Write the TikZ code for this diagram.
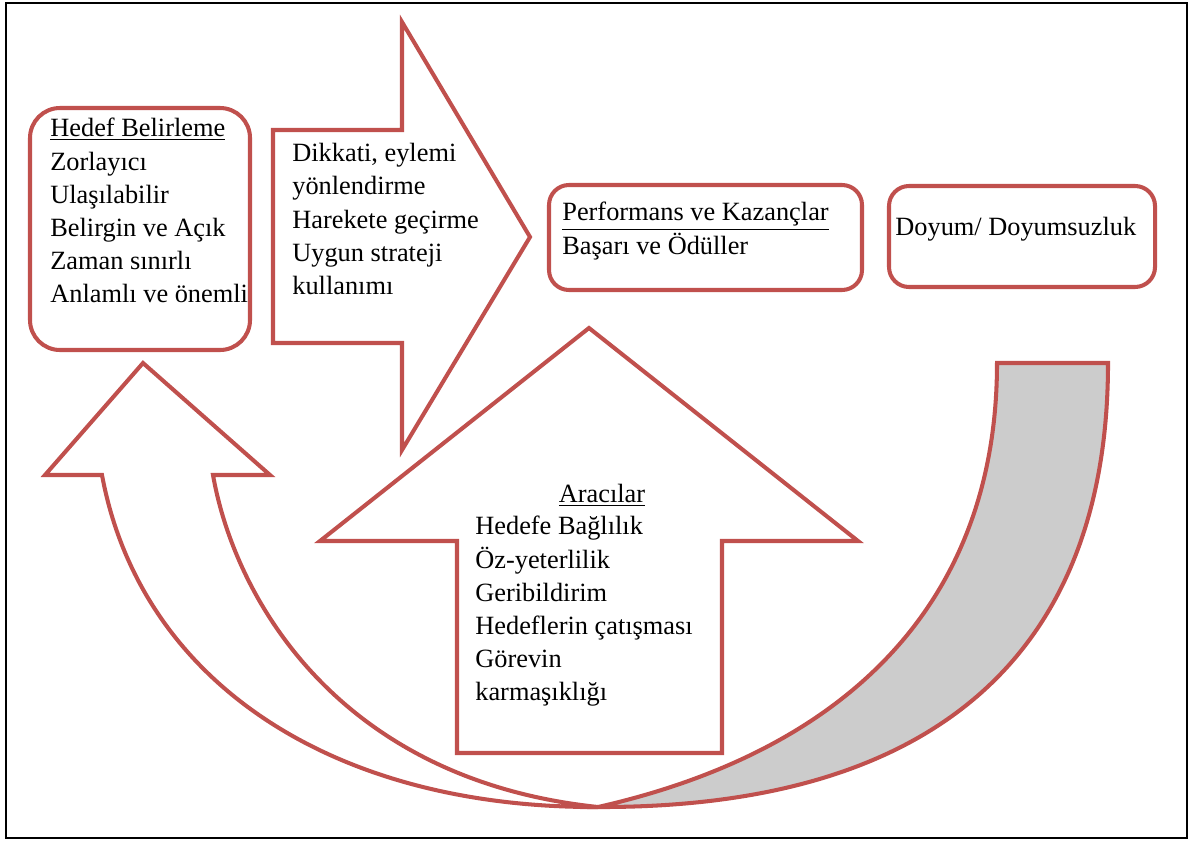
\documentclass[tikz,border=0pt]{standalone}
\usepackage{fontspec}
\setmainfont{Liberation Serif}
\usepackage{tikz}
\definecolor{accred}{HTML}{C0504D}
\tikzset{
	redpath/.style={
		draw=accred,
		line width=2.3pt,
		line join=miter},
	lbl/.style={
		font=\fontsize{15pt}{18.9pt}\selectfont,
		align=left,
		anchor=north west,
		inner sep=0pt}
}
\begin{document}
\begin{tikzpicture}[x=0.02cm, y=-0.02cm]
	\useasboundingbox (0,0) rectangle (1195,841);
	% curved arrow back to goal setting
	\draw[redpath, fill=white] (143,363) -- (270,475) -- (213,475)
		.. controls (235,600) and (340,780) .. (598,807)
		.. controls (330,808) and (140,680) .. (102,475) -- (45,475) -- cycle;
	\draw[redpath, fill=black!20] (997,363) -- (1108,363)
		.. controls (1108,640) and (950,808) .. (598,807)
		.. controls (850,750) and (997,600) .. (997,363) -- cycle;
	% block arrows
	\draw[redpath] (273,130) -- (402,130) -- (402,22) -- (530,237) -- (402,450) -- (402,343) -- (273,343) -- cycle;
	\draw[redpath] (589,328) -- (858,541) -- (722,541) -- (722,753) -- (457,753) -- (457,541) -- (320,541) -- cycle;
	% boxes
	\draw[redpath, rounded corners=0.6cm] (30,108) rectangle (250,350);
	\draw[redpath, rounded corners=0.4cm] (549,185) rectangle (862,290);
	\draw[redpath, rounded corners=0.4cm] (889,186) rectangle (1155,287);
	% texts
	\node[lbl] (hedef) at (50,118) {\underline{Hedef Belirleme}\\Zorlayıcı\\Ulaşılabilir\\Belirgin ve Açık\\Zaman sınırlı\\Anlamlı ve önemli};
	\node[lbl] (dikkat) at (292,143) {Dikkati, eylemi\\yönlendirme\\Harekete geçirme\\Uygun strateji\\kullanımı};
	\node[lbl] (perf) at (562,202) {\underline{Performans ve Kazançlar}\\Başarı ve Ödüller};
	\node[lbl] (doyum) at (895,217) {Doyum/ Doyumsuzluk};
	\node[lbl, anchor=north] (aracilar) at (602,484) {\underline{Aracılar}};
	\node[lbl] (aracliste) at (475,516) {Hedefe Bağlılık\\Öz-yeterlilik\\Geribildirim\\Hedeflerin çatışması\\Görevin\\karmaşıklığı};
	% frame
	\draw[line width=1.1pt] (6,3) rectangle (1187,838);
\end{tikzpicture}
\end{document}
